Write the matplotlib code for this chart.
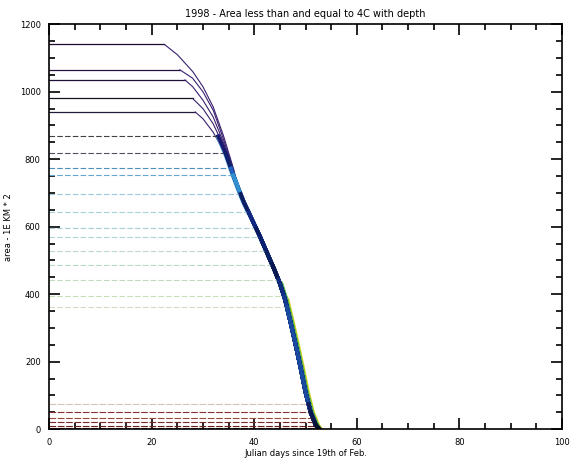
import numpy as np
import matplotlib
matplotlib.use("Agg")
import matplotlib.pyplot as plt
from matplotlib.ticker import MultipleLocator

# upper lines: own bend before joining the common curve
top_levels = [1140, 1065, 1035, 980, 940]
top_bend = [22.5, 25.5, 26.5, 28.0, 28.5]
top_days = [[25, 28, 30, 32, 34, 36],
            [28, 30, 32, 34, 36],
            [28, 30, 32, 34, 36],
            [30, 32, 34, 36],
            [30, 32, 34, 36]]
top_vals = [[1110, 1060, 1015, 955, 870, 770],
            [1040, 1000, 945, 860, 765],
            [1015, 975, 925, 850, 762],
            [950, 905, 840, 758],
            [920, 880, 825, 755]]

# lower lines: flat until they meet the common curve
levels = [868, 818, 773, 752, 697, 643, 595, 569, 527, 488, 443, 394, 362,
          75, 50, 32, 20, 10, 3]

# common descending curve (dark core)
env_days = [33, 34.5, 36, 37, 38, 39, 40, 41, 42, 43, 44, 45, 46, 47, 48,
            49, 50, 51, 52, 52.7]
env_vals = [868, 815, 750, 710, 672, 640, 607, 575, 540, 505, 470, 432, 385,
            322, 255, 185, 110, 50, 12, 0]
# light blue left edge of the bundle (upper part)
left_days = [32.7, 34.2, 35.7, 36.7, 37.7, 38.7]
left_vals = [868, 815, 750, 710, 672, 640]
# green / yellow right edge of the bundle (lower part)
green_days = [45.4, 46.4, 47.4, 48.4, 49.4, 50.4, 51.4, 52.4, 53.0]
green_vals = [432, 385, 322, 255, 185, 110, 50, 12, 0]
yellow_days = [46.6, 47.6, 48.6, 49.6, 50.6, 51.6, 52.6, 53.2]
yellow_vals = [385, 322, 255, 185, 110, 50, 12, 0]

top_colors = ["#1a0a2e", "#2a1040", "#1d0f35", "#141420", "#221a38"]
colors = ["#404048", "#505060", "#4f8fc0", "#60a8d0", "#9cc8dc", "#a8d0dc",
          "#a8ccd8", "#b0d4d8", "#b8d8d0", "#b8dcc8", "#c0dcc0", "#c8dcb8",
          "#d0dcc0", "#d8c0b8", "#8a3030", "#9a4a40", "#7a2828", "#6a2020",
          "#5a1818"]
desc_colors = ["#1a1a70", "#10206a", "#2060c0", "#3090d0", "#0c1c60",
               "#102880", "#0a1a60", "#0a2070", "#082060", "#0a1850",
               "#102c80", "#143a90", "#1a4aa0", "#102060", "#0a1850",
               "#0a1a50", "#081540", "#081030", "#060c28"]

fig = plt.figure(figsize=(5.7, 4.66), dpi=100)
ax = fig.add_axes([0.086, 0.079, 0.900, 0.869])

ed = np.array(env_days)
ev = np.array(env_vals)

for lev, b, dd, vv, c in zip(top_levels, top_bend, top_days, top_vals, top_colors):
    ax.plot([0, b], [lev, lev], color=c, lw=0.9)
    xs = [b] + dd + list(ed[ed > 36.5])
    ys = [lev] + vv + list(ev[ed > 36.5])
    ax.plot(xs, ys, color="#3a2070", lw=0.8)

ax.plot(left_days, left_vals, color="#5aa8e0", lw=1.8)
ax.plot(yellow_days, yellow_vals, color="#e0d020", lw=1.8)
ax.plot(green_days, green_vals, color="#50b848", lw=2.0)

for lev, c, dc in zip(levels, colors, desc_colors):
    xc = np.interp(lev, ev[::-1], ed[::-1])
    ls = (0, (5, 2)) if lev > 100 else (0, (6, 1.5))
    ax.plot([0, xc], [lev, lev], color=c, lw=0.8, ls=ls)
    xs = [xc] + list(ed[ev < lev])
    ys = [lev] + list(ev[ev < lev])
    ax.plot(xs, ys, color=dc, lw=2.8)

ax.set_xlim(0, 100)
ax.set_ylim(0, 1200)
ax.xaxis.set_major_locator(MultipleLocator(20))
ax.xaxis.set_minor_locator(MultipleLocator(5))
ax.yaxis.set_major_locator(MultipleLocator(200))
ax.yaxis.set_minor_locator(MultipleLocator(50))
ax.tick_params(which="both", direction="in", top=True, right=True,
               labelsize=6, width=1.2, pad=6)
ax.tick_params(which="major", length=8)
ax.tick_params(which="minor", length=4)
for s in ax.spines.values():
    s.set_linewidth(1.2)

ax.set_title("1998 - Area less than and equal to 4C with depth", fontsize=7, pad=5)
ax.set_xlabel("Julian days since 19th of Feb.", fontsize=6, labelpad=2)
ax.set_ylabel("area - 1E KM * 2", fontsize=6, labelpad=5)

fig.savefig("out.png", dpi=100)
